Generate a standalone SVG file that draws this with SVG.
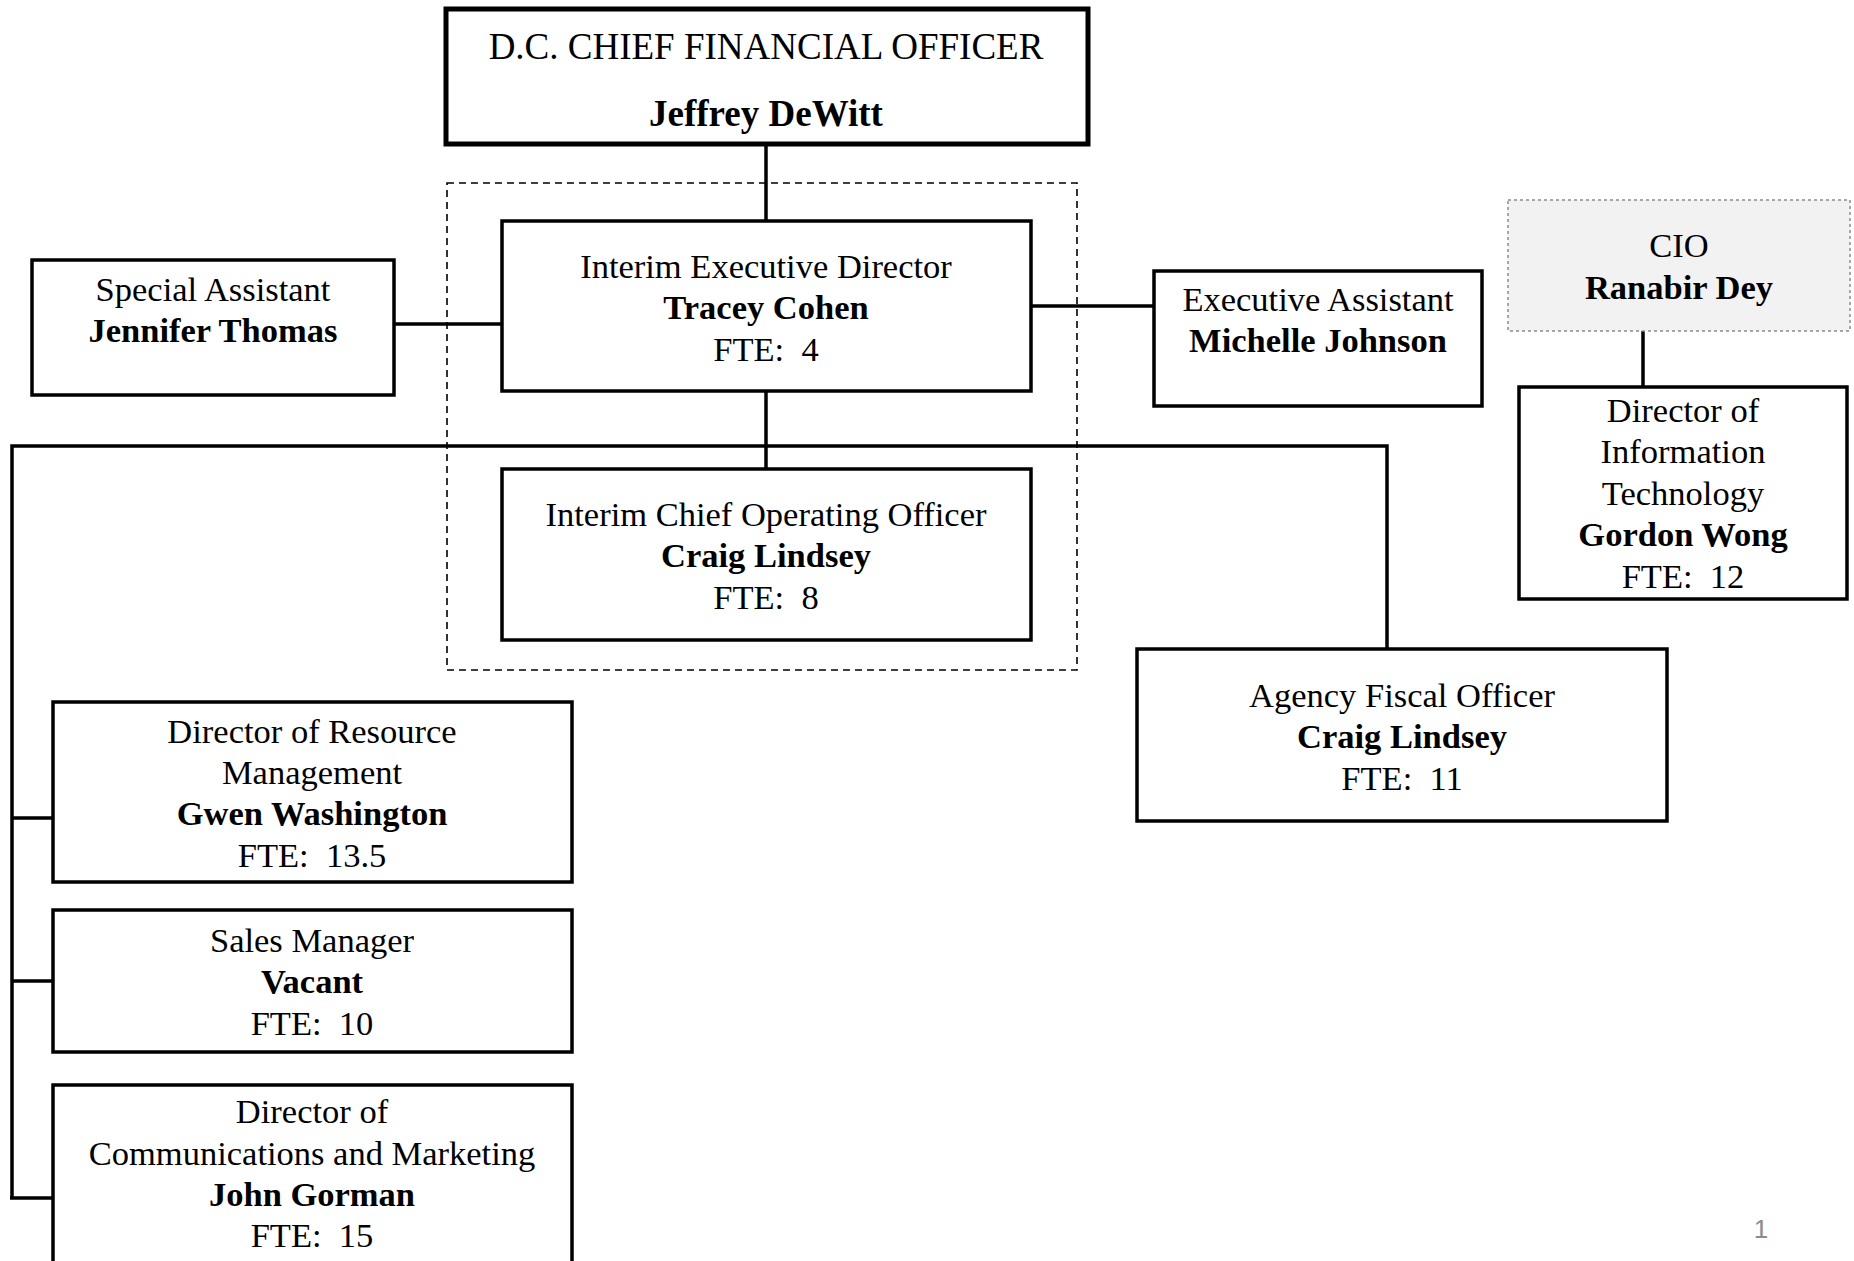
<svg xmlns="http://www.w3.org/2000/svg" width="1854" height="1261" viewBox="0 0 1854 1261">
  <style>
    .box { fill: #ffffff; stroke: #000000; stroke-width: 3.5; }
    .top { fill: #ffffff; stroke: #000000; stroke-width: 5; }
    .cio { fill: #f2f2f2; stroke: #8c8c8c; stroke-width: 1.5; stroke-dasharray: 3 3; }
    .group { fill: none; stroke: #000000; stroke-width: 1.6; stroke-dasharray: 7 5; }
    .link { fill: none; stroke: #000000; stroke-width: 3.5; }
    text { font-family: "Liberation Serif", "Times New Roman", serif; font-size: 34.5px; fill: #000000; text-anchor: middle; white-space: pre; }
    .b { font-weight: bold; }
    .big { font-size: 37px; }
    .page { font-family: "Liberation Sans", Arial, sans-serif; font-size: 26px; fill: #8c8c8c; }
  </style>

  <rect width="1854" height="1261" fill="#ffffff"/>

  <!-- dashed grouping around the executive office -->
  <rect class="group" x="447" y="183" width="630" height="487"/>

  <!-- reporting lines -->
  <g id="connectors">
    <line class="link" x1="766" y1="144" x2="766" y2="221"/>
    <line class="link" x1="394" y1="324" x2="510" y2="324"/>
    <line class="link" x1="1031" y1="306" x2="1154" y2="306"/>
    <line class="link" x1="766" y1="391" x2="766" y2="469"/>
    <polyline class="link" points="12,1198 12,446 1387,446 1387,649"/>
    <line class="link" x1="12" y1="818" x2="53" y2="818"/>
    <line class="link" x1="12" y1="981" x2="53" y2="981"/>
    <line class="link" x1="10" y1="1198" x2="53" y2="1198"/>
    <line class="link" x1="1643" y1="331" x2="1643" y2="387"/>
  </g>

  <g id="cfo">
    <rect class="top" x="446" y="9" width="642" height="135"/>
    <text class="big" x="766" y="59">D.C. CHIEF FINANCIAL OFFICER</text>
    <text class="big b" x="766" y="126">Jeffrey DeWitt</text>
  </g>

  <g id="executive-director">
    <rect class="box" x="502" y="221" width="529" height="170"/>
    <text x="766" y="278">Interim Executive Director</text>
    <text class="b" x="766" y="319">Tracey Cohen</text>
    <text x="766" y="361">FTE:&#160; 4</text>
  </g>

  <g id="special-assistant">
    <rect class="box" x="32" y="260" width="362" height="135"/>
    <text x="213" y="301">Special Assistant</text>
    <text class="b" x="213" y="342">Jennifer Thomas</text>
  </g>

  <g id="executive-assistant">
    <rect class="box" x="1154" y="271" width="328" height="135"/>
    <text x="1318" y="311">Executive Assistant</text>
    <text class="b" x="1318" y="352">Michelle Johnson</text>
  </g>

  <g id="cio">
    <rect class="cio" x="1508" y="200" width="342" height="131"/>
    <text x="1679" y="257">CIO</text>
    <text class="b" x="1679" y="299">Ranabir Dey</text>
  </g>

  <g id="director-it">
    <rect class="box" x="1519" y="387" width="328" height="212"/>
    <text x="1683" y="422">Director of</text>
    <text x="1683" y="463">Information</text>
    <text x="1683" y="505">Technology</text>
    <text class="b" x="1683" y="546">Gordon Wong</text>
    <text x="1683" y="588">FTE:&#160; 12</text>
  </g>

  <g id="chief-operating-officer">
    <rect class="box" x="502" y="469" width="529" height="171"/>
    <text x="766" y="526">Interim Chief Operating Officer</text>
    <text class="b" x="766" y="567">Craig Lindsey</text>
    <text x="766" y="609">FTE:&#160; 8</text>
  </g>

  <g id="agency-fiscal-officer">
    <rect class="box" x="1137" y="649" width="530" height="172"/>
    <text x="1402" y="707">Agency Fiscal Officer</text>
    <text class="b" x="1402" y="748">Craig Lindsey</text>
    <text x="1402" y="790">FTE:&#160; 11</text>
  </g>

  <g id="resource-management">
    <rect class="box" x="53" y="702" width="519" height="180"/>
    <text x="312" y="743">Director of Resource</text>
    <text x="312" y="784">Management</text>
    <text class="b" x="312" y="825">Gwen Washington</text>
    <text x="312" y="867">FTE:&#160; 13.5</text>
  </g>

  <g id="sales-manager">
    <rect class="box" x="53" y="910" width="519" height="142"/>
    <text x="312" y="952">Sales Manager</text>
    <text class="b" x="312" y="993">Vacant</text>
    <text x="312" y="1035">FTE:&#160; 10</text>
  </g>

  <g id="communications-marketing">
    <rect class="box" x="53" y="1085" width="519" height="190"/>
    <text x="312" y="1123">Director of</text>
    <text x="312" y="1165">Communications and Marketing</text>
    <text class="b" x="312" y="1206">John Gorman</text>
    <text x="312" y="1247">FTE:&#160; 15</text>
  </g>

  <text class="page" x="1761" y="1238">1</text>
</svg>
